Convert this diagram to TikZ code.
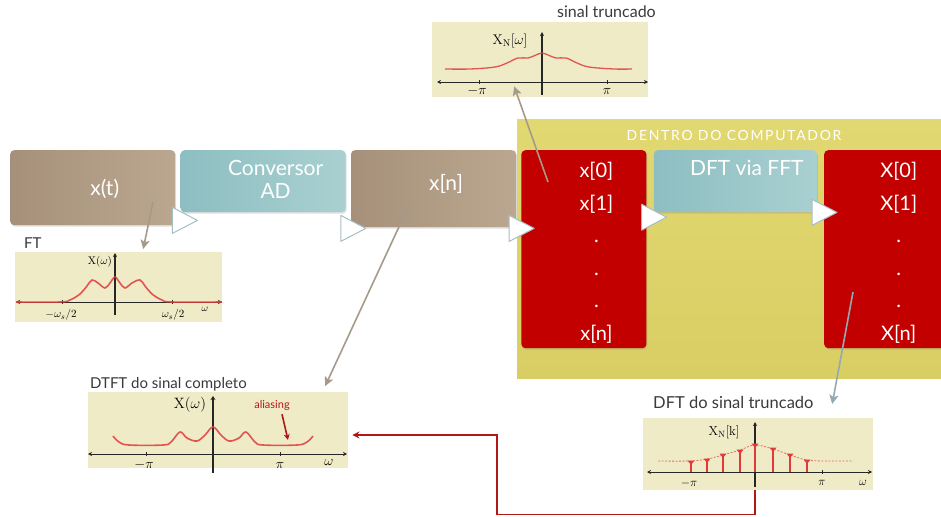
\RequirePackage{fix-cm}
\documentclass[tikz,border=0pt]{standalone}
\usepackage[no-math]{fontspec}
\setmainfont{Lato}
\usetikzlibrary{positioning,arrows.meta,shadows}

\definecolor{boxbrown}{HTML}{A6907A}
\definecolor{boxbrownlight}{HTML}{BBA790}
\definecolor{boxteal}{HTML}{8DBEC1}
\definecolor{boxteallight}{HTML}{A9D0D1}
\definecolor{bufred}{HTML}{C20000}
\definecolor{compyellow}{HTML}{E2D872}
\definecolor{compyellowdark}{HTML}{D9CE63}
\definecolor{plotbg}{HTML}{EFEBC7}
\definecolor{curvered}{HTML}{E03A3A}
\definecolor{probegray}{HTML}{A69A8A}
\definecolor{probeblue}{HTML}{93A9B3}
\definecolor{feedred}{HTML}{B01818}
\definecolor{tipedge}{HTML}{A7BEC6}
\definecolor{labelgray}{HTML}{3A3A3A}

\tikzset{
    block/.style={rectangle, rounded corners=4pt, inner sep=0pt, anchor=north west,
        drop shadow={opacity=0.25, shadow xshift=1pt, shadow yshift=-1.5pt}},
    brownbox/.style={block, left color=boxbrown, right color=boxbrownlight},
    tealbox/.style={block, left color=boxteal, right color=boxteallight},
    redbox/.style={block, fill=bufred},
    boxtext/.style={text=white, font=\fontsize{21}{23}\selectfont, align=center, inner sep=0pt},
    plotbox/.style={rectangle, fill=plotbg, inner sep=0pt, anchor=north west},
    plottitle/.style={text=labelgray, font=\fontsize{15}{17}\selectfont, inner sep=0pt, anchor=base west},
    axisline/.style={draw=black!85, line width=0.8pt},
    spectrum/.style={draw=curvered, line width=1.6pt, opacity=0.85},
    probe/.style={draw=probegray, line width=1.6pt, -{Stealth[length=9pt,width=9pt,inset=2pt]}},
    feedback/.style={draw=feedred, line width=1.6pt, -{Stealth[length=7pt,width=7pt]}},
    flowtipstyle/.style={fill=white, draw=tipedge, line width=1pt, line join=round},
}

\newcommand\flowtip[1]{\draw[flowtipstyle] (#1) -- ++(0,-13) -- ++(25,13) -- ++(-25,13) -- cycle;}

\begin{document}
\begin{tikzpicture}[x=1pt, y=-1pt]
    \clip (0,0) rectangle (941,516);
    \fill[white] (0,0) rectangle (941,516);

    % area do computador
    \node [plotbox, top color=compyellow, bottom color=compyellowdark, minimum width=440pt, minimum height=259pt] (computer) at (517,119) {};
    \node [text=white, font=\fontsize{14}{16}\selectfont\addfontfeature{LetterSpace=12}, inner sep=0pt] (complabel) at ([xshift=217pt, yshift=-16pt]computer.north west) {DENTRO DO COMPUTADOR};

    % blocos
    \node [brownbox, minimum width=165pt, minimum height=75pt] (xt) at (10,150) {};
    \node [tealbox, right=5pt of xt.north east, anchor=north west, minimum width=165pt, minimum height=62pt] (adc) {};
    \node [brownbox, right=5pt of adc.north east, anchor=north west, minimum width=165pt, minimum height=77pt] (xn) {};
    \node [redbox, right=5pt of xn.north east, anchor=north west, minimum width=125pt, minimum height=198pt] (bufin) {};
    \node [tealbox, right=7pt of bufin.north east, anchor=north west, minimum width=163pt, minimum height=62pt] (fft) {};
    \node [redbox, right=7pt of fft.north east, anchor=north west, minimum width=125pt, minimum height=198pt] (bufout) {};

    \node [boxtext] (xtlabel) at ([xshift=12pt, yshift=-1pt]xt.center) {x(t)};
    \node [boxtext] (adclabel) at ([xshift=12.5pt, yshift=2pt]adc.center) {Conversor\\AD};
    \node [boxtext] (xnlabel) at ([xshift=12.5pt, yshift=5pt]xn.center) {x[n]};
    \node [boxtext] (fftlabel) at ([xshift=11.5pt, yshift=13pt]fft.center) {DFT via FFT};
    \node [boxtext, font=\fontsize{20}{32.6}\selectfont, anchor=north] (inlist) at ([xshift=12.5pt, yshift=-12pt]bufin.north) {x[0]\\x[1]\\.\\.\\.\\x[n]};
    \node [boxtext, font=\fontsize{20}{32.6}\selectfont, anchor=north] (outlist) at ([xshift=12pt, yshift=-12pt]bufout.north) {X[0]\\X[1]\\.\\.\\.\\X[n]};

    % setas entre blocos
    \flowtip{[xshift=-3pt, yshift=5pt]xt.south east}
    \flowtip{[xshift=-5pt, yshift=-16pt]adc.south east}
    \flowtip{[xshift=-7pt, yshift=-1pt]xn.south east}
    \flowtip{[xshift=-5pt, yshift=32pt]bufin.east}
    \flowtip{[xshift=-5pt]fft.south east}

    % FT
    \node [plotbox, minimum width=207pt, minimum height=70pt] (ftplot) at (15,252) {};
    \node [plottitle] (fttitle) at (24,248) {FT};
    \coordinate (ftorigin) at (115,302);
    \draw [axisline, {Stealth[length=4pt,width=4pt]}-{Stealth[length=4pt,width=4pt]}] (16,302) -- (222,302);
    \draw [axisline, line width=1.4pt, -{Stealth[length=4pt,width=4pt]}] (115,315) -- (115,253);
    \draw [axisline] (62,300) -- (62,304) (172,300) -- (172,304);
    \node [inner sep=0pt, font=\fontsize{11}{11}\selectfont] (ftneg) at (61,315) {$-\omega_s/2$};
    \node [inner sep=0pt, font=\fontsize{11}{11}\selectfont] (ftpos) at (173,315) {$\omega_s/2$};
    \node [inner sep=0pt, font=\fontsize{10}{10}\selectfont] (ftw) at (205,309) {$\omega$};
    \node [inner sep=0pt, font=\fontsize{11}{11}\selectfont] (ftname) at (100,262) {$\mathrm{X}(\omega)$};
    \begin{scope}[shift={(ftorigin)}]
        \draw [spectrum] plot[smooth, tension=0.6] coordinates {(-99,0) (-55,0) (-45,-2) (-35,-8) (-28,-16) (-23,-22) (-17,-19) (-10,-14) (-5,-19) (0,-25) (5,-19) (10,-14) (17,-19) (25,-22) (30,-16) (37,-8) (47,-2) (57,0) (107,0)};
    \end{scope}

    % sinal truncado
    \node [plotbox, minimum width=216pt, minimum height=75pt] (truncplot) at (432,22) {};
    \node [plottitle, font=\fontsize{16}{18}\selectfont] (trunctitle) at (557,18) {sinal truncado};
    \coordinate (truncorigin) at (542,82);
    \draw [axisline, {Stealth[length=4pt,width=4pt]}-{Stealth[length=4pt,width=4pt]}] (437,82) -- (648,82);
    \draw [axisline, line width=1.4pt, -{Stealth[length=4pt,width=4pt]}] (542,95) -- (542,32);
    \draw [axisline] (479,80) -- (479,84) (607,80) -- (607,84);
    \node [inner sep=0pt, font=\fontsize{14}{14}\selectfont] (truncneg) at (477,91) {$-\pi$};
    \node [inner sep=0pt, font=\fontsize{14}{14}\selectfont] (truncpos) at (607,91) {$\pi$};
    \node [inner sep=0pt, font=\fontsize{14}{14}\selectfont] (truncname) at (510,41) {$\mathrm{X}_{\mathrm{N}}[\omega]$};
    \begin{scope}[shift={(truncorigin)}]
        \draw [spectrum, line width=1.3pt] plot[smooth, tension=0.6] coordinates {(-97,-13) (-72,-13) (-47,-15) (-35,-19) (-24,-24) (-14,-24) (-6,-27) (0,-29) (6,-27) (14,-24) (24,-24) (35,-19) (47,-15) (72,-13) (90,-13)};
    \end{scope}

    % DTFT
    \node [plotbox, minimum width=260pt, minimum height=76pt] (dtftplot) at (88,392) {};
    \node [plottitle] (dtfttitle) at (90,388) {DTFT do sinal completo};
    \coordinate (dtftorigin) at (213,454);
    \draw [axisline, {Stealth[length=4pt,width=4pt]}-{Stealth[length=4pt,width=4pt]}] (88,454) -- (347,454);
    \draw [axisline, line width=1.8pt, -{Stealth[length=4pt,width=5pt]}] (213,473) -- (213,396);
    \draw [axisline] (146,452) -- (146,456) (280,452) -- (280,456);
    \node [inner sep=0pt, font=\fontsize{14}{14}\selectfont] (dtftneg) at (144,465) {$-\pi$};
    \node [inner sep=0pt, font=\fontsize{14}{14}\selectfont] (dtftpos) at (280,465) {$\pi$};
    \node [inner sep=0pt, font=\fontsize{14}{14}\selectfont] (dtftw) at (329,462) {$\omega$};
    \node [inner sep=0pt, font=\fontsize{15}{15}\selectfont] (dtftname) at (190,405) {$\mathrm{X}(\omega)$};
    \node [inner sep=0pt, text=feedred, font=\fontsize{11}{11}\selectfont] (aliaslabel) at (272,405) {aliasing};
    \begin{scope}[shift={(dtftorigin)}]
        \draw [spectrum] plot[smooth, tension=0.6] coordinates {(-100,-18) (-94,-12) (-84,-9) (-50,-9) (-42,-12) (-33,-22) (-26,-16) (-16,-13) (-8,-19) (0,-27) (8,-19) (16,-13) (26,-16) (33,-22) (42,-12) (50,-9) (84,-9) (94,-12) (100,-18)};
    \end{scope}
    \coordinate (aliastip) at (288,440);
    \draw [feedred, line width=1.6pt, -{Stealth[length=6pt,width=6pt]}] ([xshift=10pt, yshift=-4pt]aliaslabel.south) -- (aliastip);

    % DFT
    \node [plotbox, minimum width=230pt, minimum height=72pt] (dftplot) at (643,418) {};
    \node [plottitle, font=\fontsize{16.5}{18}\selectfont] (dfttitle) at (653,408) {DFT do sinal truncado};
    \coordinate (dftorigin) at (755,472);
    \draw [axisline, {Stealth[length=4pt,width=4pt]}-{Stealth[length=4pt,width=4pt]}] (647,472) -- (872,472);
    \draw [axisline, line width=1.2pt, -{Stealth[length=4pt,width=4pt]}] (755,487) -- (755,422);
    \draw [axisline] (822,470) -- (822,474);
    \node [inner sep=0pt, font=\fontsize{12}{12}\selectfont] (dftneg) at (689,483) {$-\pi$};
    \node [inner sep=0pt, font=\fontsize{12}{12}\selectfont] (dftpos) at (822,483) {$\pi$};
    \node [inner sep=0pt, font=\fontsize{12}{12}\selectfont] (dftw) at (863,483) {$\omega$};
    \node [inner sep=0pt, font=\fontsize{13}{13}\selectfont] (dftname) at (724,432) {$\mathrm{X}_{\mathrm{N}}[\mathrm{k}]$};
    \begin{scope}[shift={(dftorigin)}]
        \draw [curvered, line width=0.8pt, dashed, dash pattern=on 2pt off 1.5pt, opacity=0.7] plot[smooth, tension=0.6] coordinates {(-97,-11) (-65,-11) (-48,-13) (-32,-17) (-15,-22) (0,-27) (18,-23) (35,-17) (52,-12) (70,-11) (98,-11)};
        \foreach \dx/\h in {-64/10, -48/12, -32/17, -15/21, 0/27, 18/23, 35/17, 52/11} {
            \draw [curvered, line width=1.8pt] (\dx,0) -- (\dx,-\h);
            \fill [curvered] (\dx-3.5,-\h-1.5) -- (\dx+3.5,-\h-1.5) -- (\dx,-\h+3) -- cycle;
        }
    \end{scope}

    % ligacoes
    \coordinate (xtprobe) at (153,202);
    \coordinate (xnprobe) at (410,203);
    \coordinate (inprobe) at (548,182);
    \coordinate (outprobe) at (853,292);
    \draw [probe] (xtprobe) -- ([xshift=24.5pt, yshift=3pt]ftplot.north);
    \draw [probe] (xnprobe) -- ([xshift=107pt, yshift=6pt]dtftplot.north);
    \draw [probe] (inprobe) -- ([xshift=-26pt, yshift=11pt]truncplot.south);
    \draw [probe, draw=probeblue] (outprobe) -- ([xshift=74pt, yshift=14pt]dftplot.north);

    \coordinate (fbcorner) at (497,435);
    \draw [feedback] (dftplot.south -| dftorigin) -- ++(0,24) -| (fbcorner) -- ([xshift=4pt]dtftplot.east |- fbcorner);
\end{tikzpicture}
\end{document}
